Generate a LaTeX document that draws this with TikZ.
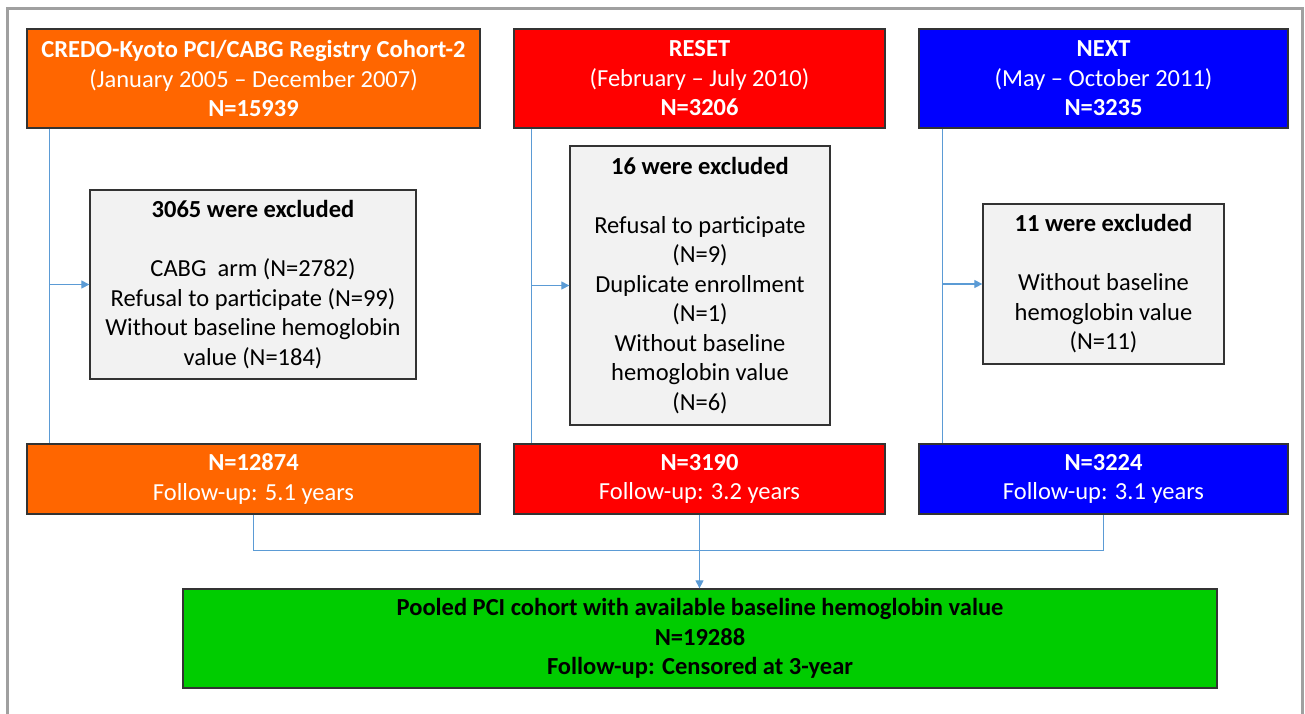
\documentclass[tikz,border=0pt]{standalone}
\usepackage{fontspec}
\setmainfont{Carlito}
\usetikzlibrary{arrows.meta}
\definecolor{orangeC}{HTML}{FF6600}
\definecolor{redC}{HTML}{FF0000}
\definecolor{blueC}{HTML}{0000FF}
\definecolor{greenC}{HTML}{00CC00}
\definecolor{exclC}{HTML}{F2F2F2}
\definecolor{lineC}{HTML}{5B9BD5}
\definecolor{frameC}{HTML}{A0A0A0}
\begin{document}
\begin{tikzpicture}[x=1pt,y=-1pt,
  every node/.style={font=\fontsize{24.5}{29.5}\selectfont, align=center, inner sep=0pt},
  boxbase/.style={draw=black!80, line width=1.3pt, rectangle},
  topbox/.style={boxbase, text=white},
  exclbox/.style={boxbase, fill=exclC, text=black},
  conn/.style={draw=lineC, line width=1.2pt},
  arr/.style={conn, -{Triangle[length=8pt,width=8pt]}}
]
\useasboundingbox (0,0) rectangle (1305,713);
\draw[frameC, line width=3pt] (7,716) -- (7,8) -- (1302,8) -- (1302,716);

% top boxes
\node[topbox, fill=orangeC, minimum width=453pt, minimum height=99pt] (t1) at (253.5,78.5)
  {\textbf{CREDO-Kyoto PCI/CABG Registry Cohort-2}\\(January 2005 – December 2007)\\\textbf{N=15939}};
\node[topbox, fill=redC, minimum width=371pt, minimum height=99pt] (t2) at (699.5,78.5)
  {\textbf{RESET}\\(February – July 2010)\\\textbf{N=3206}};
\node[topbox, fill=blueC, minimum width=369pt, minimum height=99pt] (t3) at (1103.5,78.5)
  {\textbf{NEXT}\\(May – October 2011)\\\textbf{N=3235}};

% exclusion boxes
\node[exclbox, minimum width=326pt, minimum height=189pt] (e1) at (253,284.5)
  {\textbf{3065 were excluded}\\[29.5pt]CABG\ \ arm (N=2782)\\Refusal to participate (N=99)\\Without baseline hemoglobin\\value (N=184)};
\node[exclbox, minimum width=260pt, minimum height=279pt] (e2) at (700,285.5)
  {\textbf{16 were excluded}\\[29.5pt]Refusal to participate\\(N=9)\\Duplicate enrollment\\(N=1)\\Without baseline\\hemoglobin value\\(N=6)};
\node[exclbox, minimum width=241pt, minimum height=160pt] (e3) at (1103.5,284)
  {\textbf{11 were excluded}\\[29.5pt]Without baseline\\hemoglobin value\\(N=11)};

% bottom boxes
\node[topbox, fill=orangeC, minimum width=453pt, minimum height=70pt] (b1) at (253.5,479)
  {\textbf{N=12874}\\Follow-up: 5.1 years};
\node[topbox, fill=redC, minimum width=371pt, minimum height=70pt] (b2) at (699.5,479)
  {\textbf{N=3190}\\Follow-up: 3.2 years};
\node[topbox, fill=blueC, minimum width=369pt, minimum height=70pt] (b3) at (1103.5,479)
  {\textbf{N=3224}\\Follow-up: 3.1 years};

% pooled box
\node[boxbase, fill=greenC, text=black, minimum width=1034pt, minimum height=99pt] (g) at (700,638.5)
  {\textbf{Pooled PCI cohort with available baseline hemoglobin value}\\\textbf{N=19288}\\\textbf{Follow-up: Censored at 3-year}};

% connectors
\draw[conn] ([xshift=23pt]t1.south west) -- ([xshift=23pt]b1.north west);
\draw[arr] ([xshift=23pt]t1.south west |- e1.west) -- (e1.west);
\draw[conn] ([xshift=18pt]t2.south west) -- ([xshift=18pt]b2.north west);
\draw[arr] ([xshift=18pt]t2.south west |- e2.west) -- (e2.west);
\draw[conn] ([xshift=24pt]t3.south west) -- ([xshift=24pt]b3.north west);
\draw[arr] ([xshift=24pt]t3.south west |- e3.west) -- (e3.west);

\draw[conn] (b1.south) -- ++(0,36) -| (b3.south);
\draw[arr] (b2.south) -- (b2.south |- g.north);
\end{tikzpicture}
\end{document}
